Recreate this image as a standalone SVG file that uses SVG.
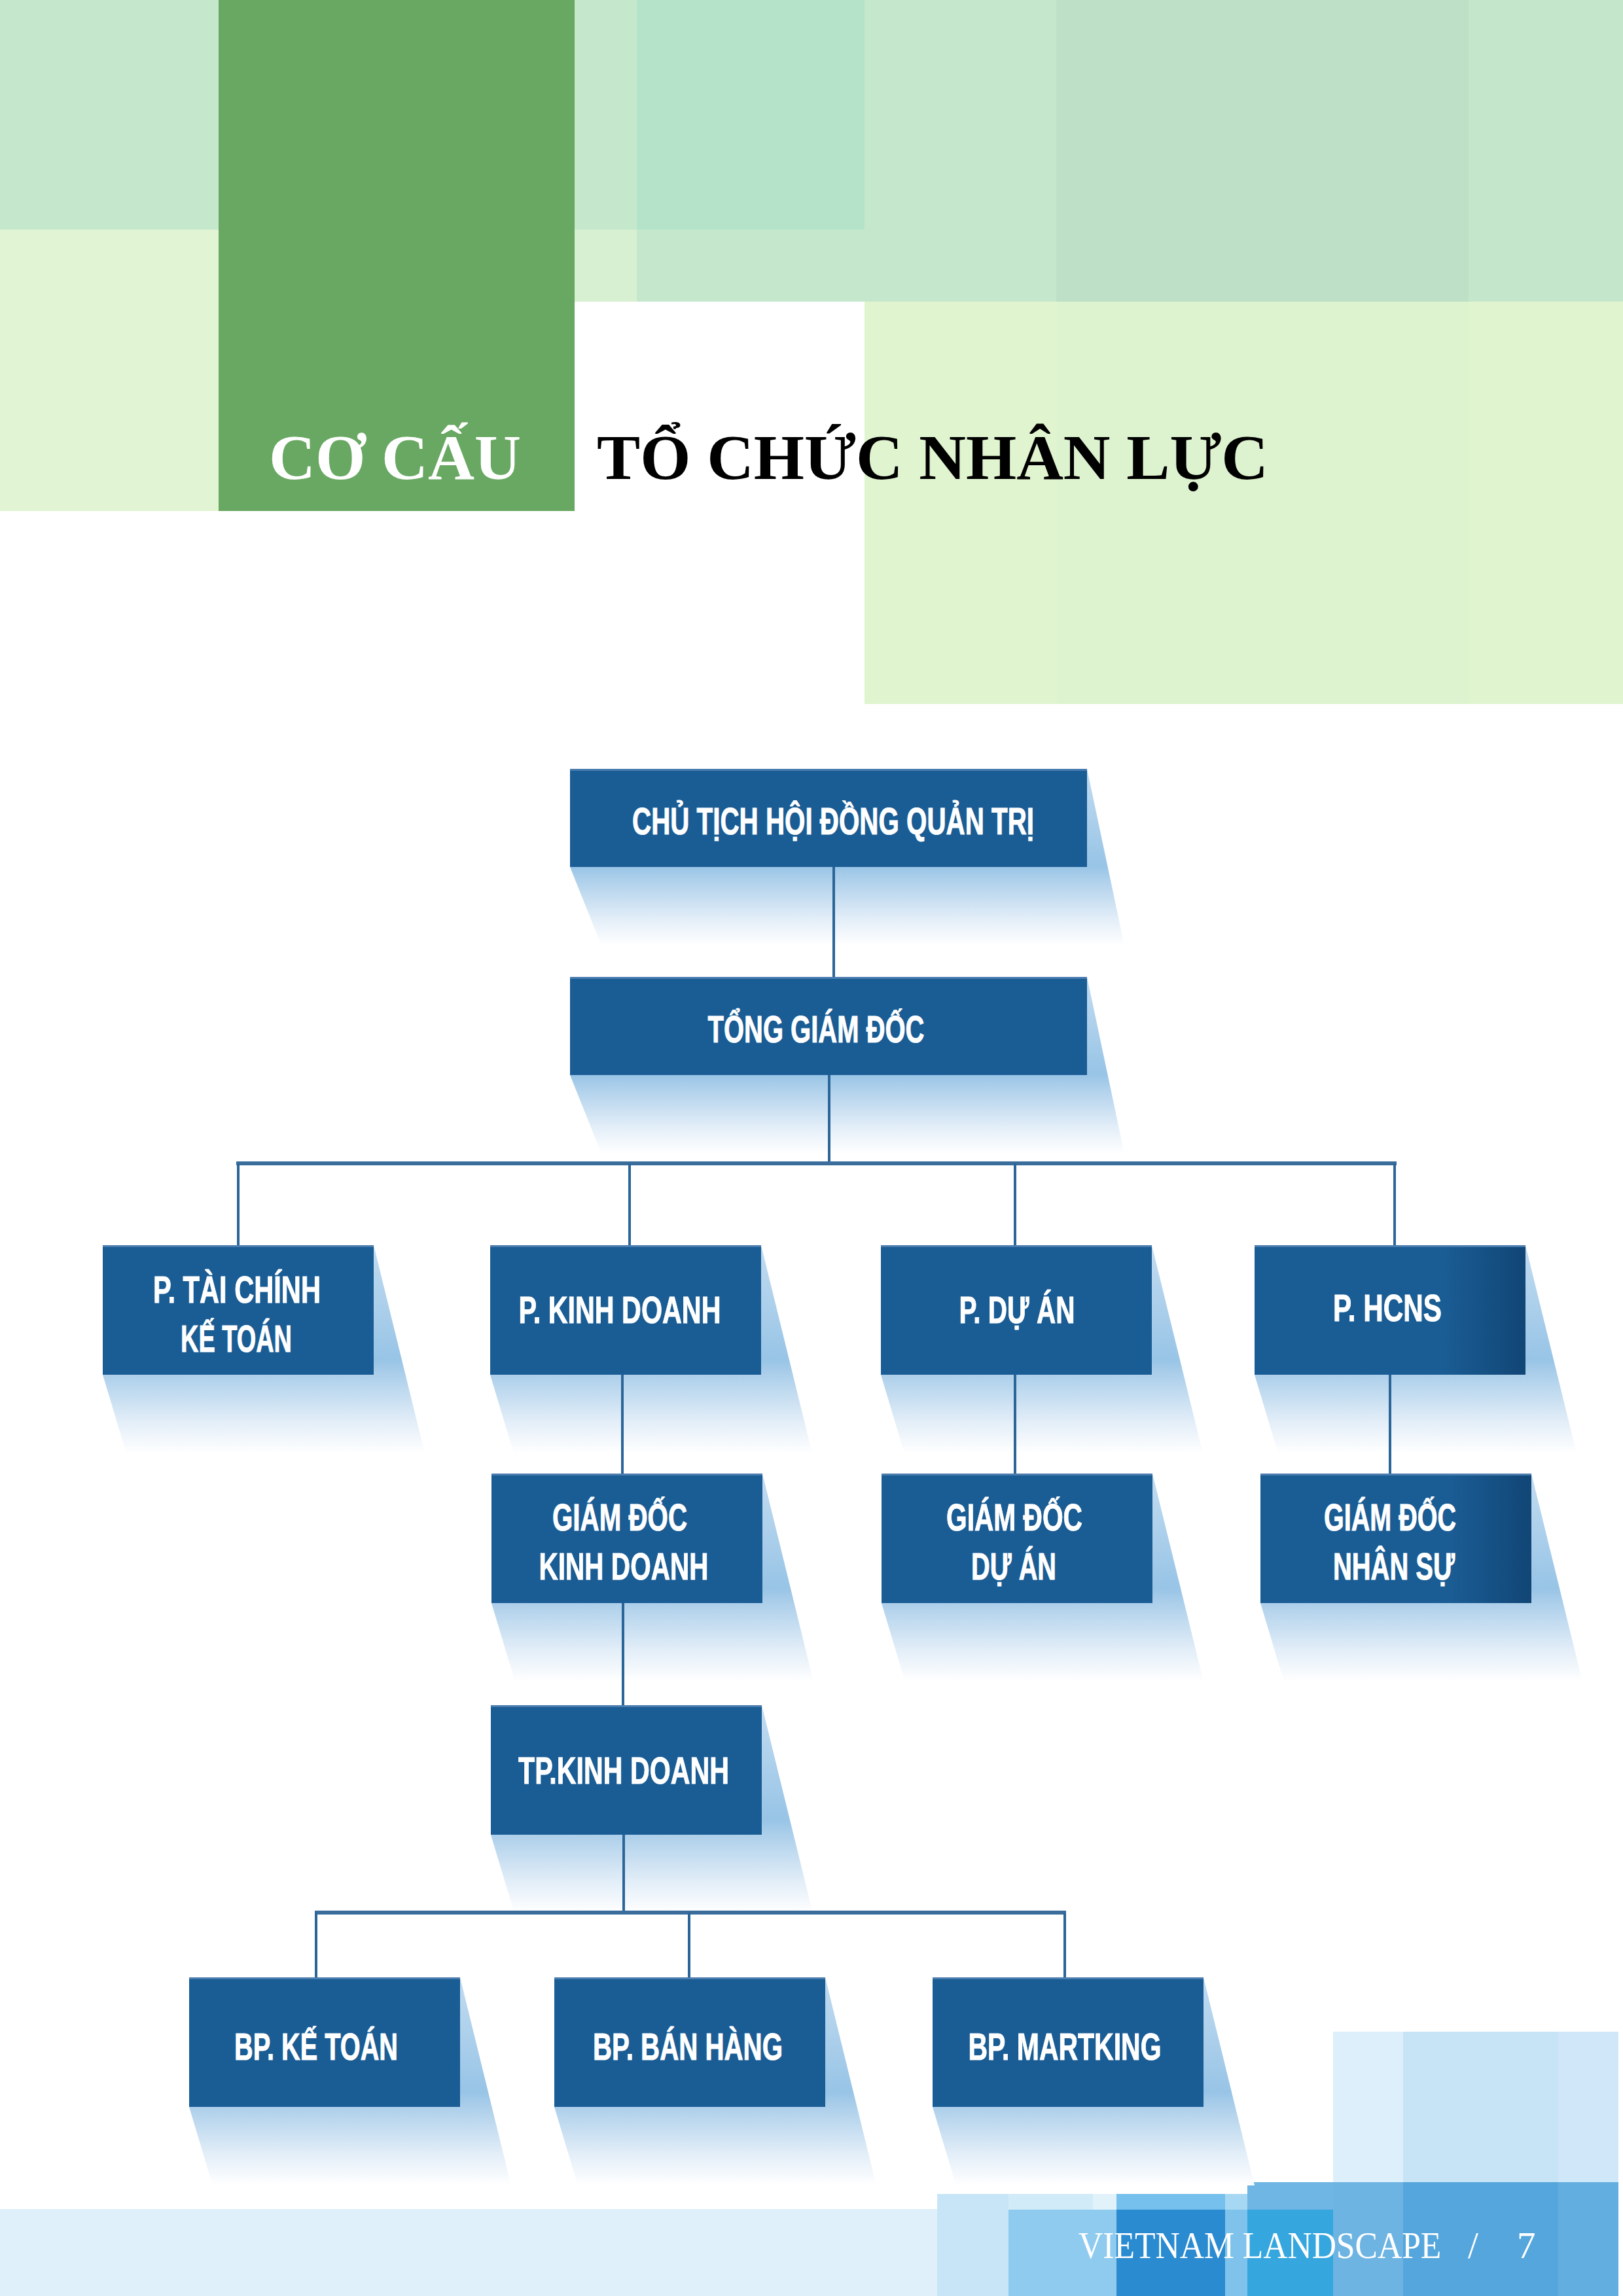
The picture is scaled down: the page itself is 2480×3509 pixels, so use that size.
<svg xmlns="http://www.w3.org/2000/svg" width="2480" height="3509" viewBox="0 0 2480 3509">
<defs>
<style>
.box{fill:#1a5c94}
.boxd{fill:url(#darkR)}
.edge{fill:#4b7daf}
.sh{fill:url(#shade)}
.lbl{font-family:"Liberation Sans Narrow","Liberation Sans",Arial,sans-serif;font-weight:bold;font-size:57px;fill:#ffffff;stroke:#ffffff;stroke-width:1;text-anchor:middle}
.conn{stroke:#2c6699;stroke-width:4;fill:none}
.bus{stroke:#3a6d9b;stroke-width:6;fill:none}
.title{font-family:"Liberation Serif","Times New Roman",serif;font-weight:bold;font-size:98px}
.foot{font-family:"Liberation Serif","Times New Roman",serif;font-size:57px;fill:#ffffff}
</style>
<linearGradient id="shade" x1="0" y1="0" x2="0" y2="1">
<stop offset="0" stop-color="#c2dcf1"/>
<stop offset="0.55" stop-color="#98c4e6"/>
<stop offset="0.63" stop-color="#aed0eb"/>
<stop offset="0.85" stop-color="#e3eef8"/>
<stop offset="1" stop-color="#ffffff"/>
</linearGradient>
<linearGradient id="darkR" x1="0" y1="0" x2="1" y2="0">
<stop offset="0" stop-color="#1a5c94"/>
<stop offset="0.7" stop-color="#1a5c94"/>
<stop offset="1" stop-color="#114676"/>
</linearGradient>
</defs>

<rect x="0" y="0" width="2480" height="3509" fill="#ffffff"/>

<g id="background-top">
<rect x="0" y="0" width="334" height="351" fill="#c5e8cd"/>
<rect x="0" y="351" width="334" height="430" fill="#e1f4d3"/>
<rect x="878" y="0" width="95" height="351" fill="#c5e8cd"/>
<rect x="878" y="351" width="95" height="110" fill="#d8f0d2"/>
<rect x="973" y="0" width="348" height="351" fill="#b5e3c9"/>
<rect x="973" y="351" width="348" height="110" fill="#c5e8cd"/>
<rect x="1321" y="0" width="293" height="461" fill="#c5e8cd"/>
<rect x="1614" y="0" width="630" height="461" fill="#bee0c6"/>
<rect x="2244" y="0" width="236" height="461" fill="#c4e6cb"/>
<rect x="1321" y="461" width="293" height="615" fill="#e0f4d0"/>
<rect x="1614" y="461" width="630" height="615" fill="#ddf2cf"/>
<rect x="2244" y="461" width="236" height="615" fill="#e0f4d0"/>
<rect x="334" y="0" width="544" height="781" fill="#69a862"/>
</g>

<g id="title">
<text class="title" x="411" y="732" fill="#ffffff" textLength="385" lengthAdjust="spacingAndGlyphs">CƠ CẤU</text>
<text class="title" x="912" y="732" fill="#000000" textLength="1026" lengthAdjust="spacingAndGlyphs">TỔ CHỨC NHÂN LỰC</text>
</g>

<g id="background-bottom">
<rect x="0" y="3376" width="1432" height="133" fill="#dff0fa"/>
<rect x="2037" y="3105" width="107" height="230" fill="#ddeffa"/>
<rect x="2144" y="3105" width="237" height="230" fill="#c7e4f7"/>
<rect x="2381" y="3105" width="92" height="230" fill="#cfe7f8"/>
<rect x="1906" y="3335" width="131" height="42" fill="#6fb6e4"/>
<rect x="1906" y="3377" width="131" height="132" fill="#35a6de"/>
<rect x="2037" y="3335" width="107" height="174" fill="#6db4e3"/>
<rect x="2144" y="3335" width="237" height="174" fill="#55a6dc"/>
<rect x="2381" y="3335" width="92" height="174" fill="#62aee0"/>
<rect x="1432" y="3353" width="109" height="156" fill="#c8e5f7"/>
<rect x="1541" y="3353" width="129" height="24" fill="#d2ebf8"/>
<rect x="1670" y="3353" width="36" height="24" fill="#e2f2fb"/>
<rect x="1541" y="3377" width="165" height="132" fill="#8fcbef"/>
<rect x="1706" y="3353" width="166" height="24" fill="#75c0ec"/>
<rect x="1706" y="3377" width="166" height="132" fill="#2b8bd0"/>
<rect x="1872" y="3353" width="34" height="24" fill="#a7d8f3"/>
<rect x="1872" y="3377" width="34" height="132" fill="#7fc3ec"/>
</g>

<g id="n-chu-tich">
<polygon class="sh" points="871,1175 1661,1175 1718,1445 919,1445 871,1325"/>
<rect class="box" x="871" y="1175" width="790" height="150"/>
<rect class="edge" x="871" y="1175" width="790" height="3"/>
<text class="lbl" x="1273" y="1275" textLength="614" lengthAdjust="spacingAndGlyphs">CHỦ TỊCH HỘI ĐỒNG QUẢN TRỊ</text>
</g>

<g id="n-tong-giam-doc">
<polygon class="sh" points="871,1493 1661,1493 1718,1763 919,1763 871,1643"/>
<rect class="box" x="871" y="1493" width="790" height="150"/>
<rect class="edge" x="871" y="1493" width="790" height="3"/>
<text class="lbl" x="1247" y="1593" textLength="331" lengthAdjust="spacingAndGlyphs">TỔNG GIÁM ĐỐC</text>
</g>

<g id="n-tai-chinh">
<polygon class="sh" points="157,1903 571,1903 649,2221 193,2221 157,2101"/>
<rect class="box" x="157" y="1903" width="414" height="198"/>
<rect class="edge" x="157" y="1903" width="414" height="3"/>
<text class="lbl" x="362" y="1991" textLength="256" lengthAdjust="spacingAndGlyphs">P. TÀI CHÍNH</text>
<text class="lbl" x="361" y="2066" textLength="170" lengthAdjust="spacingAndGlyphs">KẾ TOÁN</text>
</g>

<g id="n-kinh-doanh">
<polygon class="sh" points="749,1903 1163,1903 1241,2221 785,2221 749,2101"/>
<rect class="box" x="749" y="1903" width="414" height="198"/>
<rect class="edge" x="749" y="1903" width="414" height="3"/>
<text class="lbl" x="947" y="2022" textLength="309" lengthAdjust="spacingAndGlyphs">P. KINH DOANH</text>
</g>

<g id="n-du-an">
<polygon class="sh" points="1346,1903 1760,1903 1838,2221 1382,2221 1346,2101"/>
<rect class="box" x="1346" y="1903" width="414" height="198"/>
<rect class="edge" x="1346" y="1903" width="414" height="3"/>
<text class="lbl" x="1554" y="2022" textLength="177" lengthAdjust="spacingAndGlyphs">P. DỰ ÁN</text>
</g>

<g id="n-hcns">
<polygon class="sh" points="1917,1903 2331,1903 2409,2221 1953,2221 1917,2101"/>
<rect class="boxd" x="1917" y="1903" width="414" height="198"/>
<rect class="edge" x="1917" y="1903" width="414" height="3"/>
<text class="lbl" x="2120" y="2019" textLength="166" lengthAdjust="spacingAndGlyphs">P. HCNS</text>
</g>

<g id="n-gd-kinh-doanh">
<polygon class="sh" points="751,2252 1165,2252 1243,2570 787,2570 751,2450"/>
<rect class="box" x="751" y="2252" width="414" height="198"/>
<rect class="edge" x="751" y="2252" width="414" height="3"/>
<text class="lbl" x="947" y="2339" textLength="206" lengthAdjust="spacingAndGlyphs">GIÁM ĐỐC</text>
<text class="lbl" x="953" y="2414" textLength="259" lengthAdjust="spacingAndGlyphs">KINH DOANH</text>
</g>

<g id="n-gd-du-an">
<polygon class="sh" points="1347,2252 1761,2252 1839,2570 1383,2570 1347,2450"/>
<rect class="box" x="1347" y="2252" width="414" height="198"/>
<rect class="edge" x="1347" y="2252" width="414" height="3"/>
<text class="lbl" x="1550" y="2339" textLength="208" lengthAdjust="spacingAndGlyphs">GIÁM ĐỐC</text>
<text class="lbl" x="1549" y="2414" textLength="130" lengthAdjust="spacingAndGlyphs">DỰ ÁN</text>
</g>

<g id="n-gd-nhan-su">
<polygon class="sh" points="1926,2252 2340,2252 2418,2570 1962,2570 1926,2450"/>
<rect class="boxd" x="1926" y="2252" width="414" height="198"/>
<rect class="edge" x="1926" y="2252" width="414" height="3"/>
<text class="lbl" x="2124" y="2339" textLength="202" lengthAdjust="spacingAndGlyphs">GIÁM ĐỐC</text>
<text class="lbl" x="2130" y="2414" textLength="186" lengthAdjust="spacingAndGlyphs">NHÂN SỰ</text>
</g>

<g id="n-tp-kinh-doanh">
<polygon class="sh" points="750,2606 1164,2606 1242,2924 786,2924 750,2804"/>
<rect class="box" x="750" y="2606" width="414" height="198"/>
<rect class="edge" x="750" y="2606" width="414" height="3"/>
<text class="lbl" x="953" y="2726" textLength="322" lengthAdjust="spacingAndGlyphs">TP.KINH DOANH</text>
</g>

<g id="n-bp-ke-toan">
<polygon class="sh" points="289,3022 703,3022 781,3340 325,3340 289,3220"/>
<rect class="box" x="289" y="3022" width="414" height="198"/>
<rect class="edge" x="289" y="3022" width="414" height="3"/>
<text class="lbl" x="483" y="3148" textLength="250" lengthAdjust="spacingAndGlyphs">BP. KẾ TOÁN</text>
</g>

<g id="n-bp-ban-hang">
<polygon class="sh" points="847,3022 1261,3022 1339,3340 883,3340 847,3220"/>
<rect class="box" x="847" y="3022" width="414" height="198"/>
<rect class="edge" x="847" y="3022" width="414" height="3"/>
<text class="lbl" x="1051" y="3148" textLength="290" lengthAdjust="spacingAndGlyphs">BP. BÁN HÀNG</text>
</g>

<g id="n-bp-martking">
<polygon class="sh" points="1425,3022 1839,3022 1917,3340 1461,3340 1425,3220"/>
<rect class="box" x="1425" y="3022" width="414" height="198"/>
<rect class="edge" x="1425" y="3022" width="414" height="3"/>
<text class="lbl" x="1627" y="3148" textLength="295" lengthAdjust="spacingAndGlyphs">BP. MARTKING</text>
</g>

<g id="connectors">
<path class="conn" d="M1274 1325 V1493"/>
<path class="conn" d="M1267 1643 V1778"/>
<path class="bus" d="M361 1778 H2134"/>
<path class="conn" d="M364 1778 V1903 M962 1778 V1903 M1551 1778 V1903 M2131 1778 V1903"/>
<path class="conn" d="M951 2101 V2252 M1551 2101 V2252 M2124 2101 V2252"/>
<path class="conn" d="M952 2450 V2606"/>
<path class="conn" d="M953 2804 V2923"/>
<path class="bus" d="M481 2923 H1629"/>
<path class="conn" d="M483 2923 V3022 M1053 2923 V3022 M1627 2923 V3022"/>
</g>

<g id="footer">
<text class="foot" transform="translate(1648,3451) scale(0.905,1)" x="0" y="0">VIETNAM LANDSCAPE</text>
<text class="foot" x="2243" y="3451">/</text>
<text class="foot" x="2318" y="3451">7</text>
</g>
</svg>
